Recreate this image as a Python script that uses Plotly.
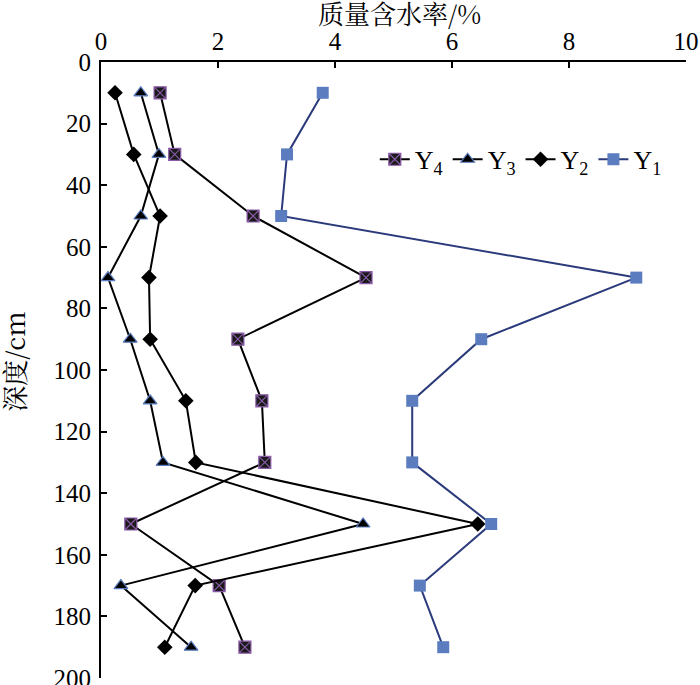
import plotly.graph_objects as go

depth = [10, 30, 50, 70, 90, 110, 130, 150, 170, 190]
y1 = [3.79, 3.18, 3.08, 9.15, 6.50, 5.32, 5.32, 6.67, 5.45, 5.85]
y2 = [0.24, 0.56, 1.01, 0.82, 0.84, 1.45, 1.62, 6.44, 1.61, 1.09]
y3 = [0.68, 0.99, 0.68, 0.12, 0.50, 0.84, 1.06, 4.48, 0.34, 1.54]
y4 = [1.01, 1.26, 2.60, 4.53, 2.34, 2.75, 2.80, 0.51, 2.02, 2.46]
x_ticks = [0, 2, 4, 6, 8, 10]
y_ticks = [0, 20, 40, 60, 80, 100, 120, 140, 160, 180, 200]

font_fam = "Times New Roman, Liberation Serif, serif"
cjk_fam = "Noto Serif CJK SC, Noto Sans CJK SC"

fig = go.Figure()
fig.add_trace(go.Scatter(
    x=y4, y=depth, mode="lines+markers", name="Y<sub>4</sub>",
    line=dict(color="black", width=2),
    marker=dict(symbol="square-x", size=12, color="#1a1a1a",
                line=dict(color="#8a5aa8", width=1.2))))
fig.add_trace(go.Scatter(
    x=y3, y=depth, mode="lines+markers", name="Y<sub>3</sub>",
    line=dict(color="black", width=2),
    marker=dict(symbol="triangle-up", size=12, color="black",
                line=dict(color="#5b7dbf", width=1.2))))
fig.add_trace(go.Scatter(
    x=y2, y=depth, mode="lines+markers", name="Y<sub>2</sub>",
    line=dict(color="black", width=2),
    marker=dict(symbol="diamond", size=12, color="black")))
fig.add_trace(go.Scatter(
    x=y1, y=depth, mode="lines+markers", name="Y<sub>1</sub>",
    line=dict(color="#2b3a7a", width=2),
    marker=dict(symbol="square", size=12, color="#5b7dbf")))

fig.update_layout(
    width=700, height=685,
    margin=dict(l=101, r=14, t=62, b=7, autoexpand=False),
    paper_bgcolor="white", plot_bgcolor="white",
    font=dict(family=font_fam, size=25, color="black"),
    showlegend=True,
    legend=dict(orientation="h", x=0.468, y=0.842, xanchor="left", yanchor="middle",
                bgcolor="rgba(0,0,0,0)", font=dict(size=26, family=font_fam),
                traceorder="normal", itemsizing="trace"),
    annotations=[
        dict(text="质量含水率/%", xref="paper", yref="paper", x=0.51, y=1.081,
             xanchor="center", yanchor="middle", showarrow=False,
             font=dict(size=26, family=cjk_fam)),
        dict(text="深度/cm", xref="paper", yref="paper", x=-0.149, y=0.513,
             xanchor="center", yanchor="middle", showarrow=False, textangle=-90,
             font=dict(size=26, family=cjk_fam)),
    ],
)
fig.update_xaxes(
    side="top", range=[0, 10], tickvals=x_ticks, ticktext=[str(v) for v in x_ticks],
    showgrid=False, zeroline=False, showline=True, linecolor="black", linewidth=2,
    ticks="inside", ticklen=6, tickwidth=2, tickcolor="black", automargin=False,
    tickfont=dict(family=font_fam, size=25), ticklabeloverflow="allow",
)
fig.update_yaxes(
    autorange=False, range=[200, 0], tickvals=y_ticks, ticktext=[str(v) for v in y_ticks],
    showgrid=False, zeroline=False, showline=True, linecolor="black", linewidth=2,
    ticks="inside", ticklen=6, tickwidth=2, tickcolor="black", automargin=False,
    tickfont=dict(family=font_fam, size=25), ticklabelstandoff=3,
    ticklabeloverflow="allow",
)
fig.write_html("out.html", config={"displayModeBar": False},
               post_script="document.body.style.margin='0';")
